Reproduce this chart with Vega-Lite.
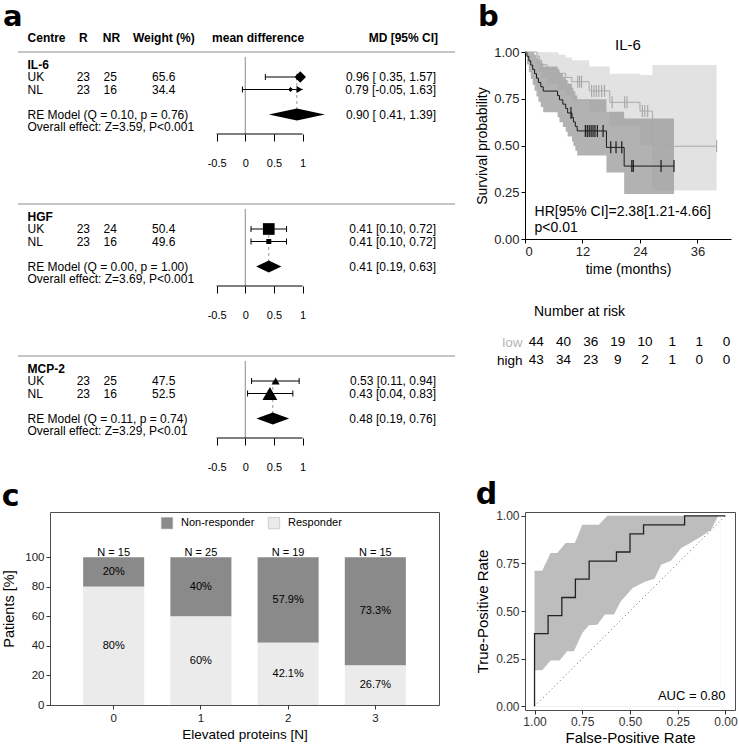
{
"$schema": "https://vega.github.io/schema/vega-lite/v6.json",
"padding": {"left": 1, "top": 3, "right": 0, "bottom": 0},
"background": "white",
"config": {"font": "Liberation Sans", "view": {"stroke": null}, "axis": {"grid": false, "labelOverlap": false, "titleFontWeight": "normal", "labelFont": "Liberation Sans", "titleFont": "Liberation Sans"}, "axisY": {"labelOverlap": false}, "title": {"font": "Liberation Sans"}},
"datasets": {
 "studies": [
  {"group":"IL-6","centre":"UK","R":23,"NR":25,"weight":65.6,"md":0.96,"lo":0.35,"hi":1.57,"ci":"0.96 [ 0.35, 1.57]"},
  {"group":"IL-6","centre":"NL","R":23,"NR":16,"weight":34.4,"md":0.79,"lo":-0.05,"hi":1.63,"ci":"0.79 [-0.05, 1.63]"},
  {"group":"HGF","centre":"UK","R":23,"NR":24,"weight":50.4,"md":0.41,"lo":0.10,"hi":0.72,"ci":"0.41 [0.10, 0.72]"},
  {"group":"HGF","centre":"NL","R":23,"NR":16,"weight":49.6,"md":0.41,"lo":0.10,"hi":0.72,"ci":"0.41 [0.10, 0.72]"},
  {"group":"MCP-2","centre":"UK","R":23,"NR":25,"weight":47.5,"md":0.53,"lo":0.11,"hi":0.94,"ci":"0.53 [0.11, 0.94]"},
  {"group":"MCP-2","centre":"NL","R":23,"NR":16,"weight":52.5,"md":0.43,"lo":0.04,"hi":0.83,"ci":"0.43 [0.04, 0.83]"}
 ],
 "summary": [
  {"group":"IL-6","md":0.90,"lo":0.41,"hi":1.39,"ci":"0.90 [ 0.41, 1.39]","re":"RE Model (Q = 0.10, p = 0.76)","overall":"Overall effect: Z=3.59, P<0.001"},
  {"group":"HGF","md":0.41,"lo":0.19,"hi":0.63,"ci":"0.41 [0.19, 0.63]","re":"RE Model (Q = 0.00, p = 1.00)","overall":"Overall effect: Z=3.69, P<0.001"},
  {"group":"MCP-2","md":0.48,"lo":0.19,"hi":0.76,"ci":"0.48 [0.19, 0.76]","re":"RE Model (Q = 0.11, p = 0.74)","overall":"Overall effect: Z=3.29, P<0.01"}
 ],
 "km": [
  {"grp":"high","time":0,"surv":1,"lower":1,"upper":1,"censor":false},
  {"grp":"high","time":0.4,"surv":0.977,"lower":0.933,"upper":1,"censor":false},
  {"grp":"high","time":0.8,"surv":0.953,"lower":0.892,"upper":1,"censor":false},
  {"grp":"high","time":1.2,"surv":0.930,"lower":0.857,"upper":1,"censor":false},
  {"grp":"high","time":1.6,"surv":0.907,"lower":0.824,"upper":0.998,"censor":false},
  {"grp":"high","time":2.0,"surv":0.884,"lower":0.793,"upper":0.985,"censor":false},
  {"grp":"high","time":2.4,"surv":0.860,"lower":0.762,"upper":0.970,"censor":false},
  {"grp":"high","time":2.8,"surv":0.837,"lower":0.734,"upper":0.955,"censor":false},
  {"grp":"high","time":3.3,"surv":0.814,"lower":0.706,"upper":0.939,"censor":false},
  {"grp":"high","time":3.8,"surv":0.791,"lower":0.678,"upper":0.922,"censor":false},
  {"grp":"high","time":6.8,"surv":0.767,"lower":0.651,"upper":0.904,"censor":false},
  {"grp":"high","time":7.2,"surv":0.744,"lower":0.624,"upper":0.887,"censor":false},
  {"grp":"high","time":7.9,"surv":0.721,"lower":0.599,"upper":0.868,"censor":false},
  {"grp":"high","time":8.5,"surv":0.698,"lower":0.573,"upper":0.850,"censor":false},
  {"grp":"high","time":8.9,"surv":0.674,"lower":0.548,"upper":0.830,"censor":false},
  {"grp":"high","time":9.6,"surv":0.674,"lower":0.548,"upper":0.830,"censor":true},
  {"grp":"high","time":9.8,"surv":0.650,"lower":0.522,"upper":0.809,"censor":false},
  {"grp":"high","time":10.1,"surv":0.626,"lower":0.497,"upper":0.790,"censor":false},
  {"grp":"high","time":10.5,"surv":0.602,"lower":0.472,"upper":0.768,"censor":false},
  {"grp":"high","time":10.9,"surv":0.578,"lower":0.447,"upper":0.747,"censor":false},
  {"grp":"high","time":12.6,"surv":0.578,"lower":0.447,"upper":0.747,"censor":true},
  {"grp":"high","time":13.0,"surv":0.578,"lower":0.447,"upper":0.747,"censor":true},
  {"grp":"high","time":13.4,"surv":0.578,"lower":0.447,"upper":0.747,"censor":true},
  {"grp":"high","time":13.8,"surv":0.578,"lower":0.447,"upper":0.747,"censor":true},
  {"grp":"high","time":14.2,"surv":0.578,"lower":0.447,"upper":0.747,"censor":true},
  {"grp":"high","time":14.6,"surv":0.578,"lower":0.447,"upper":0.747,"censor":true},
  {"grp":"high","time":15.1,"surv":0.578,"lower":0.447,"upper":0.747,"censor":true},
  {"grp":"high","time":16.3,"surv":0.578,"lower":0.447,"upper":0.747,"censor":true},
  {"grp":"high","time":17.0,"surv":0.49,"lower":0.355,"upper":0.68,"censor":false},
  {"grp":"high","time":17.9,"surv":0.49,"lower":0.355,"upper":0.68,"censor":true},
  {"grp":"high","time":19.0,"surv":0.49,"lower":0.355,"upper":0.68,"censor":true},
  {"grp":"high","time":20.2,"surv":0.49,"lower":0.355,"upper":0.68,"censor":true},
  {"grp":"high","time":20.7,"surv":0.39,"lower":0.24,"upper":0.645,"censor":false},
  {"grp":"high","time":22.3,"surv":0.39,"lower":0.24,"upper":0.645,"censor":true},
  {"grp":"high","time":22.6,"surv":0.39,"lower":0.24,"upper":0.645,"censor":true},
  {"grp":"high","time":28.4,"surv":0.39,"lower":0.24,"upper":0.645,"censor":true},
  {"grp":"high","time":31.1,"surv":0.39,"lower":0.24,"upper":0.645,"censor":true},
  {"grp":"low","time":0,"surv":1,"lower":1,"upper":1,"censor":false},
  {"grp":"low","time":2.5,"surv":0.977,"lower":0.934,"upper":1,"censor":false},
  {"grp":"low","time":3.0,"surv":0.955,"lower":0.895,"upper":1,"censor":false},
  {"grp":"low","time":3.5,"surv":0.932,"lower":0.861,"upper":1,"censor":false},
  {"grp":"low","time":4.6,"surv":0.909,"lower":0.828,"upper":0.998,"censor":false},
  {"grp":"low","time":7.0,"surv":0.886,"lower":0.797,"upper":0.985,"censor":false},
  {"grp":"low","time":8.5,"surv":0.864,"lower":0.768,"upper":0.971,"censor":false},
  {"grp":"low","time":9.8,"surv":0.841,"lower":0.740,"upper":0.956,"censor":false},
  {"grp":"low","time":11.0,"surv":0.841,"lower":0.740,"upper":0.956,"censor":true},
  {"grp":"low","time":11.4,"surv":0.841,"lower":0.740,"upper":0.956,"censor":true},
  {"grp":"low","time":11.8,"surv":0.841,"lower":0.740,"upper":0.956,"censor":true},
  {"grp":"low","time":13.4,"surv":0.792,"lower":0.679,"upper":0.923,"censor":false},
  {"grp":"low","time":13.9,"surv":0.792,"lower":0.679,"upper":0.923,"censor":true},
  {"grp":"low","time":14.4,"surv":0.792,"lower":0.679,"upper":0.923,"censor":true},
  {"grp":"low","time":14.9,"surv":0.792,"lower":0.679,"upper":0.923,"censor":true},
  {"grp":"low","time":15.4,"surv":0.792,"lower":0.679,"upper":0.923,"censor":true},
  {"grp":"low","time":16.0,"surv":0.792,"lower":0.679,"upper":0.923,"censor":true},
  {"grp":"low","time":16.6,"surv":0.792,"lower":0.679,"upper":0.923,"censor":true},
  {"grp":"low","time":17.7,"surv":0.731,"lower":0.605,"upper":0.884,"censor":false},
  {"grp":"low","time":18.2,"surv":0.731,"lower":0.605,"upper":0.884,"censor":true},
  {"grp":"low","time":20.8,"surv":0.731,"lower":0.605,"upper":0.884,"censor":true},
  {"grp":"low","time":21.3,"surv":0.731,"lower":0.605,"upper":0.884,"censor":true},
  {"grp":"low","time":24.0,"surv":0.684,"lower":0.50,"upper":0.877,"censor":false},
  {"grp":"low","time":24.5,"surv":0.684,"lower":0.50,"upper":0.877,"censor":true},
  {"grp":"low","time":25.0,"surv":0.684,"lower":0.50,"upper":0.877,"censor":true},
  {"grp":"low","time":25.6,"surv":0.684,"lower":0.50,"upper":0.877,"censor":true},
  {"grp":"low","time":26.6,"surv":0.496,"lower":0.26,"upper":0.93,"censor":false},
  {"grp":"low","time":28.9,"surv":0.496,"lower":0.26,"upper":0.93,"censor":true},
  {"grp":"low","time":40.0,"surv":0.496,"lower":0.26,"upper":0.93,"censor":true}
 ],
 "risk": [
  {"grp":"low","time":0,"n":44},{"grp":"low","time":6,"n":40},{"grp":"low","time":12,"n":36},{"grp":"low","time":18,"n":19},
  {"grp":"low","time":24,"n":10},{"grp":"low","time":30,"n":1},{"grp":"low","time":36,"n":1},{"grp":"low","time":42,"n":0},
  {"grp":"high","time":0,"n":43},{"grp":"high","time":6,"n":34},{"grp":"high","time":12,"n":23},{"grp":"high","time":18,"n":9},
  {"grp":"high","time":24,"n":2},{"grp":"high","time":30,"n":1},{"grp":"high","time":36,"n":0},{"grp":"high","time":42,"n":0}
 ],
 "resp": [
  {"proteins":0,"status":"Non-responder","pct":20,"label":"20%"},
  {"proteins":0,"status":"Responder","pct":80,"label":"80%"},
  {"proteins":1,"status":"Non-responder","pct":40,"label":"40%"},
  {"proteins":1,"status":"Responder","pct":60,"label":"60%"},
  {"proteins":2,"status":"Non-responder","pct":57.9,"label":"57.9%"},
  {"proteins":2,"status":"Responder","pct":42.1,"label":"42.1%"},
  {"proteins":3,"status":"Non-responder","pct":73.3,"label":"73.3%"},
  {"proteins":3,"status":"Responder","pct":26.7,"label":"26.7%"}
 ],
 "totals": [{"proteins":0,"N":15},{"proteins":1,"N":25},{"proteins":2,"N":19},{"proteins":3,"N":15}],
 "rocCurve": [
  {"i":1,"spec":1,"sens":0},{"i":2,"spec":1,"sens":0.381},{"i":3,"spec":0.929,"sens":0.381},{"i":4,"spec":0.929,"sens":0.476},
  {"i":5,"spec":0.857,"sens":0.476},{"i":6,"spec":0.857,"sens":0.571},{"i":7,"spec":0.786,"sens":0.571},{"i":8,"spec":0.786,"sens":0.667},
  {"i":9,"spec":0.714,"sens":0.667},{"i":10,"spec":0.714,"sens":0.762},{"i":11,"spec":0.571,"sens":0.762},{"i":12,"spec":0.571,"sens":0.810},
  {"i":13,"spec":0.5,"sens":0.810},{"i":14,"spec":0.5,"sens":0.905},{"i":15,"spec":0.429,"sens":0.905},{"i":16,"spec":0.429,"sens":0.952},
  {"i":17,"spec":0.214,"sens":0.952},{"i":18,"spec":0.214,"sens":1},{"i":19,"spec":0,"sens":1}
 ],
 "rocUpper": [
  {"spec":1.0,"upper":0.712},{"spec":0.960,"upper":0.712},{"spec":0.916,"upper":0.804},{"spec":0.881,"upper":0.804},
  {"spec":0.837,"upper":0.857},{"spec":0.789,"upper":0.857},{"spec":0.750,"upper":0.953},{"spec":0.663,"upper":0.953},
  {"spec":0.619,"upper":1.0},{"spec":0.028,"upper":1.0}
 ],
 "rocLower": [
  {"spec":1.0,"lower":0.189},{"spec":0.960,"lower":0.189},{"spec":0.916,"lower":0.240},{"spec":0.869,"lower":0.240},
  {"spec":0.829,"lower":0.288},{"spec":0.794,"lower":0.288},{"spec":0.750,"lower":0.385},{"spec":0.715,"lower":0.425},
  {"spec":0.672,"lower":0.428},{"spec":0.631,"lower":0.481},{"spec":0.584,"lower":0.481},{"spec":0.549,"lower":0.55},
  {"spec":0.486,"lower":0.621},{"spec":0.425,"lower":0.652},{"spec":0.372,"lower":0.670},{"spec":0.337,"lower":0.743},
  {"spec":0.285,"lower":0.764},{"spec":0.232,"lower":0.831},{"spec":0.180,"lower":0.860},{"spec":0.127,"lower":0.891},
  {"spec":0.075,"lower":0.927},{"spec":0.040,"lower":0.996},{"spec":0.028,"lower":1.0}
 ]
},
"resolve": {"scale": {"color": "independent", "fill": "independent", "size": "independent"}, "legend": {"color": "independent"}},
"columns": 1,
"align": "none",
"spacing": 7,
"concat": [
 {"columns": 2, "align": "none", "spacing": 19,
  "resolve": {"scale": {"color": "independent", "fill": "independent", "size": "independent"}},
  "concat": [
  {"spacing": 35,
   "resolve": {"scale": {"size": "independent"}},
   "vconcat": [
    {"width": 405, "height": 82,
     "data": {"name": "studies"},
     "transform": [{"filter": "datum.group == 'IL-6'"}],
     "layer": [
      {"data":{"values":[{}]},"mark":{"type":"rule","color":"#8c8c8c"},"encoding":{"x":{"datum":-3.967,"type":"quantitative"},"x2":{"datum":3.66},"y":{"datum":"sep","type":"ordinal","scale":{"type":"point","domain":["sep","label","UK","NL","gap","RE","Overall"],"padding":0.28,"align":0},"axis":null}}},
      {"data":{"values":[{}]},"mark":{"type":"rule","color":"#8c8c8c","yOffset":5},"encoding":{"x":{"datum":0,"type":"quantitative","scale":{"domain":[-3.408,3.66],"nice":false,"zero":false},"axis":{"values":[-0.5,0,0.5,1],"domain":false,"tickSize":7,"tickColor":"#000","labelFontSize":11,"labelPadding":16,"labelColor":"#000","title":null,"labelFlush":false,"labelOverlap":false,"labelExpr":"(datum.value < 0 ? '-' : '') + format(abs(datum.value), '~g')"}},"y":{"datum":"sep","type":"ordinal"},"y2":{"value":"height"}}},
      {"data":{"values":[{}]},"mark":{"type":"rule","color":"#000"},"encoding":{"x":{"datum":-0.5,"type":"quantitative"},"x2":{"datum":1},"y":{"value":"height"}}},
      {"data":{"name":"summary"},"transform":[{"filter":"datum.group == 'IL-6'"}],"mark":{"type":"rule","color":"#999","strokeDash":[3,3]},"encoding":{"x":{"field":"md","type":"quantitative"},"y":{"datum":"UK","type":"ordinal"},"y2":{"datum":"RE"}}},
      {"transform":[{"calculate":"min(datum.hi, 1)","as":"hiC"}],"mark":{"type":"rule","color":"#000"},"encoding":{"x":{"field":"lo","type":"quantitative"},"x2":{"field":"hiC"},"y":{"field":"centre","type":"ordinal"}}},
      {"mark":{"type":"tick","color":"#000","thickness":1,"size":6,"opacity":1},"encoding":{"x":{"field":"lo","type":"quantitative"},"y":{"field":"centre","type":"ordinal"}}},
      {"transform":[{"filter":"datum.hi <= 1"}],"mark":{"type":"tick","color":"#000","thickness":1,"size":6,"opacity":1},"encoding":{"x":{"field":"hi","type":"quantitative"},"y":{"field":"centre","type":"ordinal"}}},
      {"transform":[{"filter":"datum.hi > 1"}],"mark":{"type":"point","shape":"triangle-right","filled":true,"color":"#000","size":49,"xOffset":-3,"opacity":1},"encoding":{"x":{"datum":1,"type":"quantitative"},"y":{"field":"centre","type":"ordinal"}}},
      {"mark":{"type":"point","shape":"diamond","filled":true,"color":"#000","opacity":1},"encoding":{"x":{"field":"md","type":"quantitative"},"y":{"field":"centre","type":"ordinal"},"size":{"field":"weight","type":"quantitative","scale":{"domain":[34.4,65.6],"range":[25,128]},"legend":null}}},
      {"data":{"name":"summary"},"transform":[{"filter":"datum.group == 'IL-6'"}],"mark":{"type":"point","shape":"M-1,0L0,-0.2135L1,0L0,0.2135Z","filled":true,"color":"#000","size":3150,"opacity":1},"encoding":{"x":{"field":"md","type":"quantitative"},"y":{"datum":"RE","type":"ordinal"}}},
      {"data":{"values":[{}]},"mark":{"type":"text","align":"left","baseline":"alphabetic","font":"DejaVu Sans","fontWeight":"bold","fontSize":29,"dy":-26},"encoding":{"x":{"datum":-4.229,"type":"quantitative"},"y":{"datum":"sep","type":"ordinal"},"text":{"value":"a"}}},
      {"data":{"values":[{}]},"mark":{"type":"text","align":"left","fontWeight":"bold","fontSize":12,"dy":-14.5},"encoding":{"x":{"datum":-3.8,"type":"quantitative"},"y":{"datum":"sep","type":"ordinal"},"text":{"value":"Centre"}}},
      {"data":{"values":[{}]},"mark":{"type":"text","align":"center","fontWeight":"bold","fontSize":12,"dy":-14.5},"encoding":{"x":{"datum":-2.826,"type":"quantitative"},"y":{"datum":"sep","type":"ordinal"},"text":{"value":"R"}}},
      {"data":{"values":[{}]},"mark":{"type":"text","align":"center","fontWeight":"bold","fontSize":12,"dy":-14.5},"encoding":{"x":{"datum":-2.335,"type":"quantitative"},"y":{"datum":"sep","type":"ordinal"},"text":{"value":"NR"}}},
      {"data":{"values":[{}]},"mark":{"type":"text","align":"left","fontWeight":"bold","fontSize":12,"dy":-14.5},"encoding":{"x":{"datum":-1.96,"type":"quantitative"},"y":{"datum":"sep","type":"ordinal"},"text":{"value":"Weight (%)"}}},
      {"data":{"values":[{}]},"mark":{"type":"text","align":"left","fontWeight":"bold","fontSize":12,"dy":-14.5},"encoding":{"x":{"datum":-0.58,"type":"quantitative"},"y":{"datum":"sep","type":"ordinal"},"text":{"value":"mean difference"}}},
      {"data":{"values":[{}]},"mark":{"type":"text","align":"right","fontWeight":"bold","fontSize":12,"dy":-14.5},"encoding":{"x":{"datum":3.363,"type":"quantitative"},"y":{"datum":"sep","type":"ordinal"},"text":{"value":"MD [95% CI]"}}},
      {"data":{"name":"summary"},"transform":[{"filter":"datum.group == 'IL-6'"}],"mark":{"type":"text","align":"left","fontWeight":"bold","fontSize":12},"encoding":{"x":{"datum":-3.8,"type":"quantitative"},"y":{"datum":"label","type":"ordinal"},"text":{"field":"group"}}},
      {"mark":{"type":"text","align":"left","fontSize":12},"encoding":{"x":{"datum":-3.8,"type":"quantitative"},"y":{"field":"centre","type":"ordinal"},"text":{"field":"centre"}}},
      {"mark":{"type":"text","align":"center","fontSize":12},"encoding":{"x":{"datum":-2.826,"type":"quantitative"},"y":{"field":"centre","type":"ordinal"},"text":{"field":"R"}}},
      {"mark":{"type":"text","align":"center","fontSize":12},"encoding":{"x":{"datum":-2.356,"type":"quantitative"},"y":{"field":"centre","type":"ordinal"},"text":{"field":"NR"}}},
      {"mark":{"type":"text","align":"center","fontSize":12},"encoding":{"x":{"datum":-1.424,"type":"quantitative"},"y":{"field":"centre","type":"ordinal"},"text":{"field":"weight","type":"quantitative","format":".1f"}}},
      {"mark":{"type":"text","align":"right","fontSize":12},"encoding":{"x":{"datum":3.328,"type":"quantitative"},"y":{"field":"centre","type":"ordinal"},"text":{"field":"ci"}}},
      {"data":{"name":"summary"},"transform":[{"filter":"datum.group == 'IL-6'"}],"mark":{"type":"text","align":"left","fontSize":12},"encoding":{"x":{"datum":-3.8,"type":"quantitative"},"y":{"datum":"RE","type":"ordinal"},"text":{"field":"re"}}},
      {"data":{"name":"summary"},"transform":[{"filter":"datum.group == 'IL-6'"}],"mark":{"type":"text","align":"left","fontSize":12},"encoding":{"x":{"datum":-3.8,"type":"quantitative"},"y":{"datum":"Overall","type":"ordinal"},"text":{"field":"overall"}}},
      {"data":{"name":"summary"},"transform":[{"filter":"datum.group == 'IL-6'"}],"mark":{"type":"text","align":"right","fontSize":12},"encoding":{"x":{"datum":3.328,"type":"quantitative"},"y":{"datum":"RE","type":"ordinal"},"text":{"field":"ci"}}}
     ]},
    {"width": 405, "height": 82,
     "data": {"name": "studies"},
     "transform": [{"filter": "datum.group == 'HGF'"}],
     "layer": [
      {"data":{"values":[{}]},"mark":{"type":"rule","color":"#8c8c8c"},"encoding":{"x":{"datum":-3.967,"type":"quantitative"},"x2":{"datum":3.66},"y":{"datum":"sep","type":"ordinal","scale":{"type":"point","domain":["sep","label","UK","NL","gap","RE","Overall"],"padding":0.28,"align":0},"axis":null}}},
      {"data":{"values":[{}]},"mark":{"type":"rule","color":"#8c8c8c","yOffset":5},"encoding":{"x":{"datum":0,"type":"quantitative","scale":{"domain":[-3.408,3.66],"nice":false,"zero":false},"axis":{"values":[-0.5,0,0.5,1],"domain":false,"tickSize":7,"tickColor":"#000","labelFontSize":11,"labelPadding":16,"labelColor":"#000","title":null,"labelFlush":false,"labelOverlap":false,"labelExpr":"(datum.value < 0 ? '-' : '') + format(abs(datum.value), '~g')"}},"y":{"datum":"sep","type":"ordinal"},"y2":{"value":"height"}}},
      {"data":{"values":[{}]},"mark":{"type":"rule","color":"#000"},"encoding":{"x":{"datum":-0.5,"type":"quantitative"},"x2":{"datum":1},"y":{"value":"height"}}},
      {"data":{"name":"summary"},"transform":[{"filter":"datum.group == 'HGF'"}],"mark":{"type":"rule","color":"#999","strokeDash":[3,3]},"encoding":{"x":{"field":"md","type":"quantitative"},"y":{"datum":"UK","type":"ordinal"},"y2":{"datum":"RE"}}},
      {"transform":[{"calculate":"min(datum.hi, 1)","as":"hiC"}],"mark":{"type":"rule","color":"#000"},"encoding":{"x":{"field":"lo","type":"quantitative"},"x2":{"field":"hiC"},"y":{"field":"centre","type":"ordinal"}}},
      {"mark":{"type":"tick","color":"#000","thickness":1,"size":6,"opacity":1},"encoding":{"x":{"field":"lo","type":"quantitative"},"y":{"field":"centre","type":"ordinal"}}},
      {"transform":[{"filter":"datum.hi <= 1"}],"mark":{"type":"tick","color":"#000","thickness":1,"size":6,"opacity":1},"encoding":{"x":{"field":"hi","type":"quantitative"},"y":{"field":"centre","type":"ordinal"}}},
      {"mark":{"type":"point","shape":"square","filled":true,"color":"#000","opacity":1},"encoding":{"x":{"field":"md","type":"quantitative"},"y":{"field":"centre","type":"ordinal"},"size":{"field":"weight","type":"quantitative","scale":{"domain":[49.6,50.4],"range":[25,137]},"legend":null}}},
      {"data":{"name":"summary"},"transform":[{"filter":"datum.group == 'HGF'"}],"mark":{"type":"point","shape":"M-1,0L0,-0.476L1,0L0,0.476Z","filled":true,"color":"#000","size":635,"opacity":1},"encoding":{"x":{"field":"md","type":"quantitative"},"y":{"datum":"RE","type":"ordinal"}}},
      {"data":{"name":"summary"},"transform":[{"filter":"datum.group == 'HGF'"}],"mark":{"type":"text","align":"left","fontWeight":"bold","fontSize":12},"encoding":{"x":{"datum":-3.8,"type":"quantitative"},"y":{"datum":"label","type":"ordinal"},"text":{"field":"group"}}},
      {"mark":{"type":"text","align":"left","fontSize":12},"encoding":{"x":{"datum":-3.8,"type":"quantitative"},"y":{"field":"centre","type":"ordinal"},"text":{"field":"centre"}}},
      {"mark":{"type":"text","align":"center","fontSize":12},"encoding":{"x":{"datum":-2.826,"type":"quantitative"},"y":{"field":"centre","type":"ordinal"},"text":{"field":"R"}}},
      {"mark":{"type":"text","align":"center","fontSize":12},"encoding":{"x":{"datum":-2.356,"type":"quantitative"},"y":{"field":"centre","type":"ordinal"},"text":{"field":"NR"}}},
      {"mark":{"type":"text","align":"center","fontSize":12},"encoding":{"x":{"datum":-1.424,"type":"quantitative"},"y":{"field":"centre","type":"ordinal"},"text":{"field":"weight","type":"quantitative","format":".1f"}}},
      {"mark":{"type":"text","align":"right","fontSize":12},"encoding":{"x":{"datum":3.328,"type":"quantitative"},"y":{"field":"centre","type":"ordinal"},"text":{"field":"ci"}}},
      {"data":{"name":"summary"},"transform":[{"filter":"datum.group == 'HGF'"}],"mark":{"type":"text","align":"left","fontSize":12},"encoding":{"x":{"datum":-3.8,"type":"quantitative"},"y":{"datum":"RE","type":"ordinal"},"text":{"field":"re"}}},
      {"data":{"name":"summary"},"transform":[{"filter":"datum.group == 'HGF'"}],"mark":{"type":"text","align":"left","fontSize":12},"encoding":{"x":{"datum":-3.8,"type":"quantitative"},"y":{"datum":"Overall","type":"ordinal"},"text":{"field":"overall"}}},
      {"data":{"name":"summary"},"transform":[{"filter":"datum.group == 'HGF'"}],"mark":{"type":"text","align":"right","fontSize":12},"encoding":{"x":{"datum":3.328,"type":"quantitative"},"y":{"datum":"RE","type":"ordinal"},"text":{"field":"ci"}}}
     ]},
    {"width": 405, "height": 82,
     "data": {"name": "studies"},
     "transform": [{"filter": "datum.group == 'MCP-2'"}],
     "layer": [
      {"data":{"values":[{}]},"mark":{"type":"rule","color":"#8c8c8c"},"encoding":{"x":{"datum":-3.967,"type":"quantitative"},"x2":{"datum":3.66},"y":{"datum":"sep","type":"ordinal","scale":{"type":"point","domain":["sep","label","UK","NL","gap","RE","Overall"],"padding":0.28,"align":0},"axis":null}}},
      {"data":{"values":[{}]},"mark":{"type":"rule","color":"#8c8c8c","yOffset":5},"encoding":{"x":{"datum":0,"type":"quantitative","scale":{"domain":[-3.408,3.66],"nice":false,"zero":false},"axis":{"values":[-0.5,0,0.5,1],"domain":false,"tickSize":7,"tickColor":"#000","labelFontSize":11,"labelPadding":16,"labelColor":"#000","title":null,"labelFlush":false,"labelOverlap":false,"labelExpr":"(datum.value < 0 ? '-' : '') + format(abs(datum.value), '~g')"}},"y":{"datum":"sep","type":"ordinal"},"y2":{"value":"height"}}},
      {"data":{"values":[{}]},"mark":{"type":"rule","color":"#000"},"encoding":{"x":{"datum":-0.5,"type":"quantitative"},"x2":{"datum":1},"y":{"value":"height"}}},
      {"data":{"name":"summary"},"transform":[{"filter":"datum.group == 'MCP-2'"}],"mark":{"type":"rule","color":"#999","strokeDash":[3,3]},"encoding":{"x":{"field":"md","type":"quantitative"},"y":{"datum":"UK","type":"ordinal"},"y2":{"datum":"RE"}}},
      {"transform":[{"calculate":"min(datum.hi, 1)","as":"hiC"}],"mark":{"type":"rule","color":"#000"},"encoding":{"x":{"field":"lo","type":"quantitative"},"x2":{"field":"hiC"},"y":{"field":"centre","type":"ordinal"}}},
      {"mark":{"type":"tick","color":"#000","thickness":1,"size":6,"opacity":1},"encoding":{"x":{"field":"lo","type":"quantitative"},"y":{"field":"centre","type":"ordinal"}}},
      {"transform":[{"filter":"datum.hi <= 1"}],"mark":{"type":"tick","color":"#000","thickness":1,"size":6,"opacity":1},"encoding":{"x":{"field":"hi","type":"quantitative"},"y":{"field":"centre","type":"ordinal"}}},
      {"mark":{"type":"point","shape":"triangle-up","filled":true,"color":"#000","opacity":1},"encoding":{"x":{"field":"md","type":"quantitative"},"y":{"field":"centre","type":"ordinal"},"size":{"field":"weight","type":"quantitative","scale":{"domain":[47.5,52.5],"range":[64,220]},"legend":null}}},
      {"data":{"name":"summary"},"transform":[{"filter":"datum.group == 'MCP-2'"}],"mark":{"type":"point","shape":"M-1,0L0,-0.367L1,0L0,0.367Z","filled":true,"color":"#000","size":1069,"opacity":1},"encoding":{"x":{"field":"md","type":"quantitative"},"y":{"datum":"RE","type":"ordinal"}}},
      {"data":{"name":"summary"},"transform":[{"filter":"datum.group == 'MCP-2'"}],"mark":{"type":"text","align":"left","fontWeight":"bold","fontSize":12},"encoding":{"x":{"datum":-3.8,"type":"quantitative"},"y":{"datum":"label","type":"ordinal"},"text":{"field":"group"}}},
      {"mark":{"type":"text","align":"left","fontSize":12},"encoding":{"x":{"datum":-3.8,"type":"quantitative"},"y":{"field":"centre","type":"ordinal"},"text":{"field":"centre"}}},
      {"mark":{"type":"text","align":"center","fontSize":12},"encoding":{"x":{"datum":-2.826,"type":"quantitative"},"y":{"field":"centre","type":"ordinal"},"text":{"field":"R"}}},
      {"mark":{"type":"text","align":"center","fontSize":12},"encoding":{"x":{"datum":-2.356,"type":"quantitative"},"y":{"field":"centre","type":"ordinal"},"text":{"field":"NR"}}},
      {"mark":{"type":"text","align":"center","fontSize":12},"encoding":{"x":{"datum":-1.424,"type":"quantitative"},"y":{"field":"centre","type":"ordinal"},"text":{"field":"weight","type":"quantitative","format":".1f"}}},
      {"mark":{"type":"text","align":"right","fontSize":12},"encoding":{"x":{"datum":3.328,"type":"quantitative"},"y":{"field":"centre","type":"ordinal"},"text":{"field":"ci"}}},
      {"data":{"name":"summary"},"transform":[{"filter":"datum.group == 'MCP-2'"}],"mark":{"type":"text","align":"left","fontSize":12},"encoding":{"x":{"datum":-3.8,"type":"quantitative"},"y":{"datum":"RE","type":"ordinal"},"text":{"field":"re"}}},
      {"data":{"name":"summary"},"transform":[{"filter":"datum.group == 'MCP-2'"}],"mark":{"type":"text","align":"left","fontSize":12},"encoding":{"x":{"datum":-3.8,"type":"quantitative"},"y":{"datum":"Overall","type":"ordinal"},"text":{"field":"overall"}}},
      {"data":{"name":"summary"},"transform":[{"filter":"datum.group == 'MCP-2'"}],"mark":{"type":"text","align":"right","fontSize":12},"encoding":{"x":{"datum":3.328,"type":"quantitative"},"y":{"datum":"RE","type":"ordinal"},"text":{"field":"ci"}}}
     ]}
   ]},
  {"spacing": 29,
   "vconcat": [
    {"width": 206, "height": 187,
     "data": {"name": "km"},
     "layer": [
      {"mark":{"type":"area","interpolate":"step-after","opacity":0.3},"encoding":{
        "x":{"field":"time","type":"quantitative","scale":{"domain":[0,43],"nice":false,"zero":false},"axis":{"values":[0,6,12,18,24,30,36,42],"title":"time (months)","titleFontSize":14,"labelFontSize":13,"tickSize":4,"domainColor":"#000","tickColor":"#000","labelColor":"#222","titleColor":"#000","labelPadding":2,"titlePadding":4}},
        "y":{"field":"lower","type":"quantitative","scale":{"domain":[0,1],"nice":false},"axis":{"values":[0,0.25,0.5,0.75,1],"format":".2f","title":"Survival probability","titleFontSize":14,"labelFontSize":13,"tickSize":4,"domainColor":"#000","tickColor":"#000","labelColor":"#222","titleColor":"#000","labelPadding":2,"titlePadding":4}},
        "y2":{"field":"upper"},
        "fill":{"field":"grp","type":"nominal","scale":{"domain":["low","high"],"range":["#a0a0a0","#000000"]},"legend":null}}},
      {"mark":{"type":"line","interpolate":"step-after","strokeWidth":1},"encoding":{
        "x":{"field":"time","type":"quantitative"},
        "y":{"field":"surv","type":"quantitative"},
        "color":{"field":"grp","type":"nominal","scale":{"domain":["low","high"],"range":["#a9a9a9","#1a1a1a"]},"legend":null}}},
      {"transform":[{"filter":"datum.censor"}],"mark":{"type":"tick","thickness":1.2,"size":12,"opacity":1,"orient":"vertical"},"encoding":{
        "x":{"field":"time","type":"quantitative"},
        "y":{"field":"surv","type":"quantitative"},
        "color":{"field":"grp","type":"nominal","legend":null}}},
      {"data":{"values":[{}]},"mark":{"type":"text","align":"left","baseline":"alphabetic","font":"DejaVu Sans","fontWeight":"bold","fontSize":29,"dy":-26},"encoding":{"x":{"datum":-9.8,"type":"quantitative"},"y":{"datum":1,"type":"quantitative"},"text":{"value":"b"}}},
      {"data":{"values":[{}]},"mark":{"type":"text","align":"center","baseline":"alphabetic","fontSize":15,"dy":-2.5},"encoding":{"x":{"datum":21.5,"type":"quantitative"},"y":{"datum":1,"type":"quantitative"},"text":{"value":"IL-6"}}},
      {"data":{"values":[{}]},"mark":{"type":"text","align":"left","fontSize":14},"encoding":{"x":{"datum":2,"type":"quantitative"},"y":{"datum":0.146,"type":"quantitative"},"text":{"value":"HR[95% CI]=2.38[1.21-4.66]"}}},
      {"data":{"values":[{}]},"mark":{"type":"text","align":"left","fontSize":14},"encoding":{"x":{"datum":2,"type":"quantitative"},"y":{"datum":0.06,"type":"quantitative"},"text":{"value":"p<0.01"}}}
     ]},
    {"width": 206, "height": 36,
     "title": {"text": "Number at risk", "anchor": "start", "frame": "group", "fontSize": 14, "fontWeight": "normal", "dx": 9, "offset": 14},
     "data": {"name": "risk"},
     "mark": {"type": "text", "fontSize": 13.5, "color": "#000"},
     "encoding": {
      "x": {"field": "time", "type": "quantitative", "scale": {"domain": [-2.5, 43], "nice": false, "zero": false}, "axis": null},
      "y": {"field": "grp", "type": "ordinal", "scale": {"domain": ["low", "high"], "padding": 0.5}, "axis": {"title": null, "domain": false, "ticks": false, "labelPadding": 3, "labelFontSize": 13.5, "labelColor": {"condition": {"test": "datum.value == 'low'", "value": "#b5b5b5"}, "value": "#000"}}},
      "text": {"field": "n", "type": "quantitative"}
     }}
   ]}
 ]},
 {"hconcat": [
  {"title": {"text": "c", "anchor": "start", "font": "DejaVu Sans", "fontSize": 30, "fontWeight": "bold", "offset": 0},
   "width": 389, "height": 193,
   "view": {"stroke": "#4d4d4d", "strokeWidth": 1},
   "data": {"name": "resp"},
   "transform": [{"stack": "pct", "groupby": ["proteins"], "sort": [{"field": "status", "order": "descending"}], "as": ["y0", "y1"]}],
   "layer": [
    {"mark": {"type": "bar"}, "encoding": {
      "x": {"field": "proteins", "type": "ordinal", "scale": {"paddingInner": 0.3, "paddingOuter": 0.38}, "axis": {"title": "Elevated proteins [N]", "labelAngle": 0, "titleFontSize": 13.5, "labelFontSize": 11.5, "tickSize": 4, "domain": false, "tickColor": "#333", "labelColor": "#222", "titleColor": "#000", "labelPadding": 3, "titlePadding": 4}},
      "y": {"field": "y0", "type": "quantitative", "scale": {"domain": [0, 130.7], "nice": false}, "axis": {"values": [0, 20, 40, 60, 80, 100], "tickCount": 6, "labelOverlap": false, "labelSeparation": 0, "labelBound": false, "title": "Patients [%]", "titleFontSize": 14.5, "labelFontSize": 11.5, "tickSize": 4, "domain": false, "tickColor": "#333", "labelColor": "#222", "titleColor": "#000", "labelPadding": 2, "titlePadding": 8}},
      "y2": {"field": "y1"},
      "color": {"field": "status", "type": "nominal", "scale": {"domain": ["Non-responder", "Responder"], "range": ["#8a8a8a", "#ebebeb"]},
        "legend": {"orient": "none", "legendX": 111, "legendY": 5, "direction": "horizontal", "columns": 2, "title": null, "symbolType": "square", "symbolSize": 130, "symbolStrokeColor": "#aaa", "symbolStrokeWidth": 0.5, "labelFontSize": 11, "labelColor": "#000", "columnPadding": 12, "labelOffset": 8}}}},
    {"transform": [{"calculate": "(datum.y0 + datum.y1) / 2", "as": "ymid"}], "mark": {"type": "text", "fontSize": 11, "color": "#000"}, "encoding": {
      "x": {"field": "proteins", "type": "ordinal"},
      "y": {"field": "ymid", "type": "quantitative"},
      "text": {"field": "label"}}},
    {"data": {"name": "totals"}, "transform": [{"calculate": "'N = ' + datum.N", "as": "lab"}], "mark": {"type": "text", "fontSize": 11, "baseline": "alphabetic", "dy": -1, "color": "#000"}, "encoding": {
      "x": {"field": "proteins", "type": "ordinal"},
      "y": {"datum": 100, "type": "quantitative"},
      "text": {"field": "lab"}}}
   ]},
  {"title": {"text": "d", "anchor": "start", "font": "DejaVu Sans", "fontSize": 30, "fontWeight": "bold", "offset": 0},
   "width": 210, "height": 198,
   "view": {"stroke": "#4d4d4d", "strokeWidth": 1},
   "layer": [
    {"data": {"name": "rocUpper"}, "mark": {"type": "area", "color": "#bdbdbd"}, "encoding": {
      "x": {"field": "spec", "type": "quantitative", "scale": {"domain": [-0.05, 1.05], "reverse": true, "nice": false, "zero": false}, "axis": {"values": [1, 0.75, 0.5, 0.25, 0], "format": ".2f", "title": "False-Positive Rate", "titleFontSize": 15, "labelFontSize": 12, "tickSize": 4, "domain": false, "tickColor": "#333", "labelColor": "#333", "titleColor": "#000", "labelPadding": 2, "titlePadding": 3}},
      "y": {"field": "upper", "type": "quantitative", "scale": {"domain": [-0.02, 1.02], "nice": false, "zero": false}, "axis": {"values": [0, 0.25, 0.5, 0.75, 1], "format": ".2f", "title": "True-Positive Rate", "titleFontSize": 15, "labelFontSize": 12, "tickSize": 4, "domain": false, "tickColor": "#333", "labelColor": "#333", "titleColor": "#000", "labelPadding": 2, "titlePadding": 5}},
      "y2": {"datum": 0}}},
    {"data": {"name": "rocLower"}, "mark": {"type": "area", "color": "#ffffff"}, "encoding": {
      "x": {"field": "spec", "type": "quantitative"},
      "y": {"field": "lower", "type": "quantitative"},
      "y2": {"datum": 0}}},
    {"data": {"values": [{}]}, "mark": {"type": "rule", "color": "#666", "strokeDash": [1, 3]}, "encoding": {
      "x": {"datum": 1, "type": "quantitative"}, "y": {"datum": 0, "type": "quantitative"}, "x2": {"datum": 0}, "y2": {"datum": 1}}},
    {"data": {"name": "rocCurve"}, "mark": {"type": "line", "color": "#222", "strokeWidth": 1.3}, "encoding": {
      "x": {"field": "spec", "type": "quantitative"},
      "y": {"field": "sens", "type": "quantitative"},
      "order": {"field": "i", "type": "quantitative"}}},
    {"data": {"values": [{}]}, "mark": {"type": "text", "align": "right", "fontSize": 13, "color": "#000"}, "encoding": {
      "x": {"datum": 0, "type": "quantitative"}, "y": {"datum": 0.052, "type": "quantitative"}, "text": {"value": "AUC = 0.80"}}}
   ]}
 ], "spacing": 35}
]
}
